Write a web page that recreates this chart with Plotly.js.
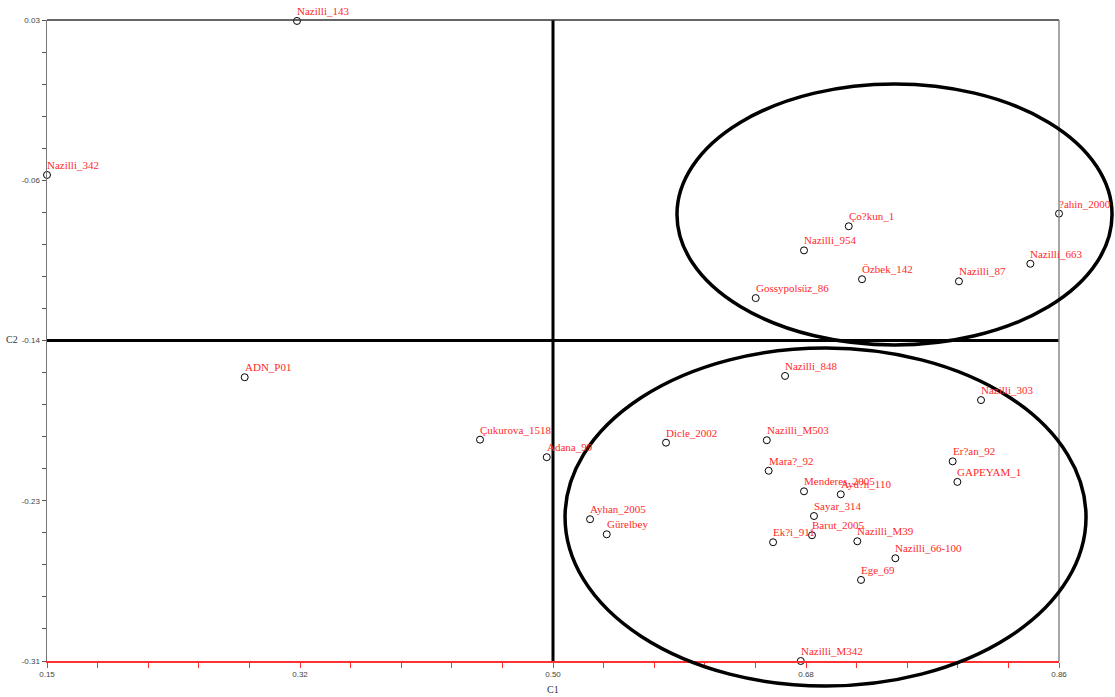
<!DOCTYPE html>
<html>
<head>
<meta charset="utf-8">
<script src="https://cdn.plot.ly/plotly-3.0.1.min.js"></script>
<style>html,body{margin:0;padding:0;background:#fff;}#chart{width:1115px;height:697px;}</style>
</head>
<body>
<div id="chart"></div>
<script>
const names = ["Nazilli_143","Nazilli_342","?ahin_2000","Ço?kun_1","Nazilli_954","Özbek_142","Nazilli_87","Nazilli_663","Gossypolsüz_86","ADN_P01","Çukurova_1518","Adana_99","Dicle_2002","Ayhan_2005","Gürelbey","Nazilli_848","Nazilli_303","Nazilli_M503","Mara?_92","Menderes_2005","Ayd?n_110","Er?an_92","GAPEYAM_1","Sayar_314","Barut_2005","Ek?i_911","Nazilli_M39","Nazilli_66-100","Ege_69","Nazilli_M342"];
const c1 = [0.3254,0.1500,0.8600,0.7125,0.6811,0.7218,0.7898,0.8399,0.6472,0.2887,0.4538,0.5006,0.5843,0.5310,0.5427,0.6678,0.8053,0.6550,0.6563,0.6811,0.7069,0.7854,0.7887,0.6881,0.6867,0.6594,0.7185,0.7452,0.7211,0.6788];
const c2 = [0.0295,-0.0522,-0.0727,-0.0794,-0.0922,-0.1075,-0.1086,-0.0993,-0.1175,-0.1595,-0.1926,-0.2019,-0.1942,-0.2348,-0.2428,-0.1588,-0.1716,-0.1929,-0.2091,-0.2200,-0.2216,-0.2041,-0.2150,-0.2331,-0.2433,-0.2470,-0.2465,-0.2555,-0.2670,-0.3100];
const xTickVals = [0.15,0.3275,0.505,0.6825,0.86];
const xTickText = ["0.15","0.32","0.50","0.68","0.86"];
const yTickVals = [0.03,-0.055,-0.14,-0.225,-0.31];
const yTickText = ["0.03","-0.06","-0.14","-0.23","-0.31"];
const xCenter = 0.505, yCenter = -0.14;

function minorVals(major){
  const out=[];
  for(let i=0;i<major.length-1;i++){
    for(let k=1;k<5;k++) out.push(major[i]+(major[i+1]-major[i])*k/5);
  }
  return out;
}

const trace = {
  x: c1, y: c2, text: names, mode: "markers", type: "scatter",
  marker: {symbol: "circle", size: 7, color: "#ffffff", line: {color: "#000000", width: 1}},
  cliponaxis: false, hoverinfo: "text"
};

const labelAnns = names.map((n, i) => ({
  text: n, x: c1[i], y: c2[i], xref: "x", yref: "y",
  showarrow: false, xanchor: "left", yanchor: "bottom",
  xshift: -1, yshift: 3, borderpad: 0,
  font: {family: "Liberation Serif, Times New Roman, serif", size: 11, color: "#ff2a2a"}
}));

const layout = {
  width: 1115, height: 697,
  margin: {l: 47, r: 56, t: 20, b: 36},
  paper_bgcolor: "#ffffff", plot_bgcolor: "#ffffff",
  showlegend: false,
  font: {family: "Liberation Sans, Arial, sans-serif"},
  xaxis: {
    range: [0.15, 0.86], showgrid: false, zeroline: false,
    tickmode: "array", tickvals: xTickVals, ticktext: xTickText,
    ticks: "outside", ticklen: 5, tickcolor: "#ff3030", tickwidth: 1,
    showline: true, linecolor: "#ff3030", linewidth: 1.5,
    tickfont: {size: 8, color: "#444", family: "Liberation Sans Narrow, Liberation Sans, Arial, sans-serif"},
    minor: {tickmode: "array", tickvals: minorVals(xTickVals), ticks: "outside", ticklen: 5, tickcolor: "#ff3030", showgrid: false}
  },
  yaxis: {
    range: [-0.31, 0.03], showgrid: false, zeroline: false,
    tickmode: "array", tickvals: yTickVals, ticktext: yTickText,
    ticks: "outside", ticklen: 4, tickcolor: "#555", tickwidth: 1,
    showline: true, linecolor: "#777", linewidth: 1.5,
    tickfont: {size: 8, color: "#444", family: "Liberation Sans Narrow, Liberation Sans, Arial, sans-serif"},
    minor: {tickmode: "array", tickvals: minorVals(yTickVals), ticks: "outside", ticklen: 4, tickcolor: "#555", showgrid: false}
  },
  shapes: [
    {type: "line", xref: "x", yref: "paper", x0: xCenter, x1: xCenter, y0: 0, y1: 1, line: {color: "#000", width: 3}, layer: "below"},
    {type: "line", xref: "paper", yref: "y", x0: 0, x1: 1, y0: yCenter, y1: yCenter, line: {color: "#000", width: 3}, layer: "below"},
    {type: "line", xref: "paper", yref: "paper", x0: 0, x1: 1, y0: 1, y1: 1, line: {color: "#333", width: 1.5}},
    {type: "line", xref: "paper", yref: "paper", x0: 1, x1: 1, y0: 0, y1: 1, line: {color: "#888", width: 1.5}},
    {type: "circle", xref: "paper", yref: "paper", x0: 0.6225, x1: 1.0524, y0: 0.493, y1: 0.9002, line: {color: "#000", width: 3.5}, fillcolor: "rgba(0,0,0,0)", layer: "above"},
    {type: "circle", xref: "paper", yref: "paper", x0: 0.5119, x1: 1.0267, y0: -0.039, y1: 0.4883, line: {color: "#000", width: 3.5}, fillcolor: "rgba(0,0,0,0)", layer: "above"}
  ],
  annotations: labelAnns.concat([
    {text: "C1", xref: "paper", yref: "paper", x: 0.5, y: -0.0437, showarrow: false, xanchor: "center", yanchor: "middle", font: {family: "Liberation Serif, serif", size: 10, color: "#333"}},
    {text: "C2", xref: "paper", yref: "paper", x: -0.0346, y: 0.5008, showarrow: false, xanchor: "center", yanchor: "middle", font: {family: "Liberation Serif, serif", size: 10, color: "#333"}}
  ])
};

Plotly.newPlot("chart", [trace], layout, {displayModeBar: false, staticPlot: true});
</script>
</body>
</html>
